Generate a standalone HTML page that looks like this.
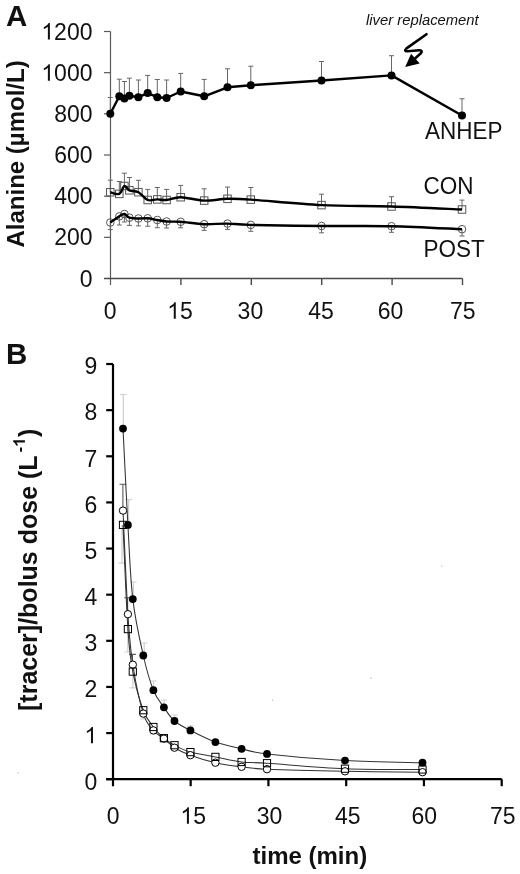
<!DOCTYPE html>
<html><head><meta charset="utf-8"><style>
html,body{margin:0;padding:0;background:#fff;width:520px;height:874px;overflow:hidden}
svg{display:block;will-change:transform}
</style></head><body>
<svg width="520" height="874" viewBox="0 0 520 874">
<g stroke="#5a5a5a" stroke-width="1.2" fill="none">
<path d="M110.5,31.5 V285"/>
<path d="M104,237.33 H110.5"/>
<path d="M104,196.17 H110.5"/>
<path d="M104,155 H110.5"/>
<path d="M104,113.83 H110.5"/>
<path d="M104,72.67 H110.5"/>
<path d="M104,31.5 H110.5"/>
</g>
<g stroke="#4a4a4a" stroke-width="1.4" fill="none">
<path d="M104,278.5 H462.5"/>
<path d="M180.9,278.5 V285"/>
<path d="M251.3,278.5 V285"/>
<path d="M321.7,278.5 V285"/>
<path d="M392.1,278.5 V285"/>
<path d="M462.5,278.5 V285"/>
</g>
<g transform="translate(79.71,286.5) scale(1,1.04)" fill="#111"><text x="0" y="0" font-family="Liberation Sans" font-size="23">0</text></g>
<g transform="translate(54.13,245.33) scale(1,1.04)" fill="#111"><text x="0" y="0" font-family="Liberation Sans" font-size="23">200</text></g>
<g transform="translate(54.13,204.17) scale(1,1.04)" fill="#111"><text x="0" y="0" font-family="Liberation Sans" font-size="23">400</text></g>
<g transform="translate(54.13,163) scale(1,1.04)" fill="#111"><text x="0" y="0" font-family="Liberation Sans" font-size="23">600</text></g>
<g transform="translate(54.13,121.83) scale(1,1.04)" fill="#111"><text x="0" y="0" font-family="Liberation Sans" font-size="23">800</text></g>
<g transform="translate(41.33,80.67) scale(1,1.04)" fill="#111"><path transform="translate(0,0) scale(0.01123,-0.01075)" d="M763,0 L583,0 L583,1147 Q518,1085 465,1054 Q412,1023 359,992 Q306,961 221,930 L221,1104 Q372,1175 428.5,1225.5 Q485,1276 541.5,1326.5 Q598,1377 645,1472 L763,1472 Z"/><text x="12.79" y="0" font-family="Liberation Sans" font-size="23">000</text></g>
<g transform="translate(41.33,39.5) scale(1,1.04)" fill="#111"><path transform="translate(0,0) scale(0.01123,-0.01075)" d="M763,0 L583,0 L583,1147 Q518,1085 465,1054 Q412,1023 359,992 Q306,961 221,930 L221,1104 Q372,1175 428.5,1225.5 Q485,1276 541.5,1326.5 Q598,1377 645,1472 L763,1472 Z"/><text x="12.79" y="0" font-family="Liberation Sans" font-size="23">200</text></g>
<g transform="translate(103.8,318.8) scale(1,1.04)" fill="#111"><text x="0" y="0" font-family="Liberation Sans" font-size="23">0</text></g>
<g transform="translate(167.21,318.8) scale(1,1.04)" fill="#111"><path transform="translate(0,0) scale(0.01123,-0.01075)" d="M763,0 L583,0 L583,1147 Q518,1085 465,1054 Q412,1023 359,992 Q306,961 221,930 L221,1104 Q372,1175 428.5,1225.5 Q485,1276 541.5,1326.5 Q598,1377 645,1472 L763,1472 Z"/><text x="12.79" y="0" font-family="Liberation Sans" font-size="23">5</text></g>
<g transform="translate(237.61,318.8) scale(1,1.04)" fill="#111"><text x="0" y="0" font-family="Liberation Sans" font-size="23">30</text></g>
<g transform="translate(308.21,318.8) scale(1,1.04)" fill="#111"><text x="0" y="0" font-family="Liberation Sans" font-size="23">45</text></g>
<g transform="translate(377.81,318.8) scale(1,1.04)" fill="#111"><text x="0" y="0" font-family="Liberation Sans" font-size="23">60</text></g>
<g transform="translate(449.91,318.8) scale(1,1.04)" fill="#111"><text x="0" y="0" font-family="Liberation Sans" font-size="23">75</text></g>
<text transform="translate(24.2,247.5) rotate(-90)" font-family="Liberation Sans" font-weight="bold" font-size="24" fill="#111">Alanine (µmol/L)</text>
<text transform="translate(6,25.5) scale(1,1.015)" font-family="Liberation Sans" font-weight="bold" font-size="29.5" fill="#111">A</text>
<g stroke="#666" stroke-width="1" fill="none">
<path d="M110.3,113.8 V97.5 M107.8,97.5 H112.8"/>
<path d="M119.3,96.2 V79.2 M116.8,79.2 H121.8"/>
<path d="M124.4,98.5 V81.5 M121.9,81.5 H126.9"/>
<path d="M129.4,95.7 V78.2 M126.9,78.2 H131.9"/>
<path d="M138.4,97.2 V80 M135.9,80 H140.9"/>
<path d="M147.7,93.1 V75.4 M145.2,75.4 H150.2"/>
<path d="M157.3,97.2 V79.5 M154.8,79.5 H159.8"/>
<path d="M166.6,98 V80 M164.1,80 H169.1"/>
<path d="M180.7,91.5 V73.4 M178.2,73.4 H183.2"/>
<path d="M204.2,96.3 V79.4 M201.7,79.4 H206.7"/>
<path d="M227.5,87.3 V68.8 M225,68.8 H230"/>
<path d="M250.8,85.2 V66.2 M248.3,66.2 H253.3"/>
<path d="M321.5,80.5 V61.5 M319,61.5 H324"/>
<path d="M391.5,75.4 V55.7 M389,55.7 H394"/>
<path d="M462,115.5 V98.8 M459.5,98.8 H464.5"/>
<path d="M110.3,192.3 V180.2 M107.8,180.2 H112.8"/>
<path d="M119.3,193.9 V181.5 M116.8,181.5 H121.8"/>
<path d="M124.4,186 V173.2 M121.9,173.2 H126.9"/>
<path d="M129.4,190.3 V177.5 M126.9,177.5 H131.9"/>
<path d="M138.4,192.2 V180.3 M135.9,180.3 H140.9"/>
<path d="M147.7,200 V189.4 M145.2,189.4 H150.2"/>
<path d="M157.3,199.4 V187.5 M154.8,187.5 H159.8"/>
<path d="M166.6,200 V189.4 M164.1,189.4 H169.1"/>
<path d="M180.7,197.2 V185.4 M178.2,185.4 H183.2"/>
<path d="M204.2,200.6 V188.8 M201.7,188.8 H206.7"/>
<path d="M227.5,198.8 V187.1 M225,187.1 H230"/>
<path d="M250.8,199.6 V187.5 M248.3,187.5 H253.3"/>
<path d="M321.5,205.1 V194.2 M319,194.2 H324"/>
<path d="M391.5,206.5 V196.7 M389,196.7 H394"/>
<path d="M462,209.5 V200.1 M459.5,200.1 H464.5"/>
<path d="M110.3,222.5 V229.6 M107.8,229.6 H112.8"/>
<path d="M119.3,216.4 V225 M116.8,225 H121.8"/>
<path d="M124.4,214 V222 M121.9,222 H126.9"/>
<path d="M129.4,217.7 V225.4 M126.9,225.4 H131.9"/>
<path d="M138.4,218.5 V225.9 M135.9,225.9 H140.9"/>
<path d="M147.7,218.3 V226.2 M145.2,226.2 H150.2"/>
<path d="M157.3,220 V227.7 M154.8,227.7 H159.8"/>
<path d="M166.6,221.5 V228 M164.1,228 H169.1"/>
<path d="M180.7,221.8 V227.8 M178.2,227.8 H183.2"/>
<path d="M204.2,224.2 V230.4 M201.7,230.4 H206.7"/>
<path d="M227.5,223.6 V229.4 M225,229.4 H230"/>
<path d="M250.8,224.9 V231.3 M248.3,231.3 H253.3"/>
<path d="M321.5,226 V232.8 M319,232.8 H324"/>
<path d="M391.5,226.2 V232.3 M389,232.3 H394"/>
<path d="M462,229.2 V236 M459.5,236 H464.5"/>
</g>
<g stroke="#555" stroke-width="1" fill="none">
<rect x="106.55" y="188.55" width="7.5" height="7.5"/>
<rect x="115.55" y="190.15" width="7.5" height="7.5"/>
<rect x="120.65" y="182.25" width="7.5" height="7.5"/>
<rect x="125.65" y="186.55" width="7.5" height="7.5"/>
<rect x="134.65" y="188.45" width="7.5" height="7.5"/>
<rect x="143.95" y="196.25" width="7.5" height="7.5"/>
<rect x="153.55" y="195.65" width="7.5" height="7.5"/>
<rect x="162.85" y="196.25" width="7.5" height="7.5"/>
<rect x="176.95" y="193.45" width="7.5" height="7.5"/>
<rect x="200.45" y="196.85" width="7.5" height="7.5"/>
<rect x="223.75" y="195.05" width="7.5" height="7.5"/>
<rect x="247.05" y="195.85" width="7.5" height="7.5"/>
<rect x="317.75" y="201.35" width="7.5" height="7.5"/>
<rect x="387.75" y="202.75" width="7.5" height="7.5"/>
<rect x="458.25" y="205.75" width="7.5" height="7.5"/>
<circle cx="110.3" cy="222.5" r="3.8"/>
<circle cx="119.3" cy="216.4" r="3.8"/>
<circle cx="124.4" cy="214" r="3.8"/>
<circle cx="129.4" cy="217.7" r="3.8"/>
<circle cx="138.4" cy="218.5" r="3.8"/>
<circle cx="147.7" cy="218.3" r="3.8"/>
<circle cx="157.3" cy="220" r="3.8"/>
<circle cx="166.6" cy="221.5" r="3.8"/>
<circle cx="180.7" cy="221.8" r="3.8"/>
<circle cx="204.2" cy="224.2" r="3.8"/>
<circle cx="227.5" cy="223.6" r="3.8"/>
<circle cx="250.8" cy="224.9" r="3.8"/>
<circle cx="321.5" cy="226" r="3.8"/>
<circle cx="391.5" cy="226.2" r="3.8"/>
<circle cx="462" cy="229.2" r="3.8"/>
</g>
<g stroke="#000" stroke-width="2.4" fill="none" stroke-linejoin="round">
<path d="M110.3,113.8 L119.3,96.2 L124.4,98.5 L129.4,95.7 L138.4,97.2 L147.7,93.1 L157.3,97.2 L166.6,98 L180.7,91.5 L204.2,96.3 L227.5,87.3 L250.8,85.2 L321.5,80.5 L391.5,75.4 L462,115.5"/>
<path d="M110.3,192.3 C111.8,192.57 116.95,194.95 119.3,193.9 C121.65,192.85 122.72,186.6 124.4,186 C126.08,185.4 127.07,189.27 129.4,190.3 C131.73,191.33 135.35,190.58 138.4,192.2 C141.45,193.82 144.55,198.8 147.7,200 C150.85,201.2 154.15,199.4 157.3,199.4 C160.45,199.4 162.7,200.37 166.6,200 C170.5,199.63 174.43,197.1 180.7,197.2 C186.97,197.3 196.4,200.33 204.2,200.6 C212,200.87 219.73,198.97 227.5,198.8 C235.27,198.63 235.13,198.55 250.8,199.6 C266.47,200.65 298.05,203.95 321.5,205.1 C344.95,206.25 368.08,205.77 391.5,206.5 C414.92,207.23 450.25,209 462,209.5"/>
<path d="M110.3,222.5 C111.8,221.48 116.95,217.82 119.3,216.4 C121.65,214.98 122.72,213.78 124.4,214 C126.08,214.22 127.07,216.95 129.4,217.7 C131.73,218.45 135.35,218.4 138.4,218.5 C141.45,218.6 144.55,218.05 147.7,218.3 C150.85,218.55 154.15,219.47 157.3,220 C160.45,220.53 162.7,221.2 166.6,221.5 C170.5,221.8 174.43,221.35 180.7,221.8 C186.97,222.25 196.4,223.9 204.2,224.2 C212,224.5 219.73,223.48 227.5,223.6 C235.27,223.72 235.13,224.5 250.8,224.9 C266.47,225.3 298.05,225.78 321.5,226 C344.95,226.22 368.08,225.67 391.5,226.2 C414.92,226.73 450.25,228.7 462,229.2"/>
</g>
<g fill="#000">
<circle cx="110.3" cy="113.8" r="4"/>
<circle cx="119.3" cy="96.2" r="4"/>
<circle cx="124.4" cy="98.5" r="4"/>
<circle cx="129.4" cy="95.7" r="4"/>
<circle cx="138.4" cy="97.2" r="4"/>
<circle cx="147.7" cy="93.1" r="4"/>
<circle cx="157.3" cy="97.2" r="4"/>
<circle cx="166.6" cy="98" r="4"/>
<circle cx="180.7" cy="91.5" r="4"/>
<circle cx="204.2" cy="96.3" r="4"/>
<circle cx="227.5" cy="87.3" r="4"/>
<circle cx="250.8" cy="85.2" r="4"/>
<circle cx="321.5" cy="80.5" r="4"/>
<circle cx="391.5" cy="75.4" r="4"/>
<circle cx="462" cy="115.5" r="4"/>
</g>
<text transform="translate(425,138.5) scale(1,1.04)" font-family="Liberation Sans" font-weight="normal" font-size="22.5" fill="#111">ANHEP</text>
<text transform="translate(423.5,193.5) scale(1,1.04)" font-family="Liberation Sans" font-weight="normal" font-size="22.5" fill="#111">CON</text>
<text transform="translate(423.5,256.5) scale(1,1.04)" font-family="Liberation Sans" font-weight="normal" font-size="22.5" fill="#111">POST</text>
<text x="366" y="25" font-family="Liberation Sans" font-style="italic" font-size="14.8" fill="#111">liver replacement</text>
<path d="M426.5,34.2 L406.5,48.4 Q403.3,51.3 407.5,51.3 L419.5,50.3 Q423.2,50.2 420.6,53.6 L415,58.5" stroke="#000" stroke-width="2.6" fill="none" stroke-linecap="round" stroke-linejoin="round"/>
<path d="M405.2,67.1 L411.1,53.8 L419.7,63.4 Z" fill="#000"/>
<g stroke="#000" stroke-width="2.2" fill="none">
<path d="M113,364 V786.2 M106.2,779.2 H501.7"/>
<path d="M106.2,779.2 H113"/>
<path d="M106.2,733.07 H113"/>
<path d="M106.2,686.94 H113"/>
<path d="M106.2,640.81 H113"/>
<path d="M106.2,594.68 H113"/>
<path d="M106.2,548.55 H113"/>
<path d="M106.2,502.42 H113"/>
<path d="M106.2,456.29 H113"/>
<path d="M106.2,410.16 H113"/>
<path d="M106.2,364.03 H113"/>
<path d="M190.66,779.2 V786.2"/>
<path d="M268.42,779.2 V786.2"/>
<path d="M346.18,779.2 V786.2"/>
<path d="M423.94,779.2 V786.2"/>
<path d="M501.7,779.2 V786.2"/>
</g>
<g transform="translate(84.41,789.5) scale(1,1.04)" fill="#111"><text x="0" y="0" font-family="Liberation Sans" font-size="23">0</text></g>
<g transform="translate(84.41,743.36) scale(1,1.04)" fill="#111"><path transform="translate(0,0) scale(0.01123,-0.01075)" d="M763,0 L583,0 L583,1147 Q518,1085 465,1054 Q412,1023 359,992 Q306,961 221,930 L221,1104 Q372,1175 428.5,1225.5 Q485,1276 541.5,1326.5 Q598,1377 645,1472 L763,1472 Z"/></g>
<g transform="translate(84.41,697.22) scale(1,1.04)" fill="#111"><text x="0" y="0" font-family="Liberation Sans" font-size="23">2</text></g>
<g transform="translate(84.41,651.08) scale(1,1.04)" fill="#111"><text x="0" y="0" font-family="Liberation Sans" font-size="23">3</text></g>
<g transform="translate(84.41,604.94) scale(1,1.04)" fill="#111"><text x="0" y="0" font-family="Liberation Sans" font-size="23">4</text></g>
<g transform="translate(84.41,558.79) scale(1,1.04)" fill="#111"><text x="0" y="0" font-family="Liberation Sans" font-size="23">5</text></g>
<g transform="translate(84.41,512.65) scale(1,1.04)" fill="#111"><text x="0" y="0" font-family="Liberation Sans" font-size="23">6</text></g>
<g transform="translate(84.41,466.51) scale(1,1.04)" fill="#111"><text x="0" y="0" font-family="Liberation Sans" font-size="23">7</text></g>
<g transform="translate(84.41,420.37) scale(1,1.04)" fill="#111"><text x="0" y="0" font-family="Liberation Sans" font-size="23">8</text></g>
<g transform="translate(84.41,374.23) scale(1,1.04)" fill="#111"><text x="0" y="0" font-family="Liberation Sans" font-size="23">9</text></g>
<g transform="translate(106.8,823.8) scale(1,1.04)" fill="#111"><text x="0" y="0" font-family="Liberation Sans" font-size="23">0</text></g>
<g transform="translate(180.37,823.8) scale(1,1.04)" fill="#111"><path transform="translate(0,0) scale(0.01123,-0.01075)" d="M763,0 L583,0 L583,1147 Q518,1085 465,1054 Q412,1023 359,992 Q306,961 221,930 L221,1104 Q372,1175 428.5,1225.5 Q485,1276 541.5,1326.5 Q598,1377 645,1472 L763,1472 Z"/><text x="12.79" y="0" font-family="Liberation Sans" font-size="23">5</text></g>
<g transform="translate(256.73,823.8) scale(1,1.04)" fill="#111"><text x="0" y="0" font-family="Liberation Sans" font-size="23">30</text></g>
<g transform="translate(334.89,823.8) scale(1,1.04)" fill="#111"><text x="0" y="0" font-family="Liberation Sans" font-size="23">45</text></g>
<g transform="translate(411.45,823.8) scale(1,1.04)" fill="#111"><text x="0" y="0" font-family="Liberation Sans" font-size="23">60</text></g>
<g transform="translate(490.01,823.8) scale(1,1.04)" fill="#111"><text x="0" y="0" font-family="Liberation Sans" font-size="23">75</text></g>
<text x="252.5" y="863.8" font-family="Liberation Sans" font-weight="bold" font-size="24" fill="#111">time (min)</text>
<text transform="translate(6,363.8) scale(1,1.015)" font-family="Liberation Sans" font-weight="bold" font-size="29.5" fill="#111">B</text>
<g transform="translate(36.5,711) rotate(-90)" font-family="Liberation Sans" font-weight="bold" fill="#111"><text x="0" y="0" font-size="25">[tracer]/bolus dose (L</text><text x="258.6" y="-11.6" font-size="17">-</text><path transform="translate(264.26,-11.6) scale(0.00830,-0.00796)" d="M791,0 L510,0 L510,1059 Q356,915 147,846 L147,1101 Q257,1137 386,1237 Q515,1337 563,1470 L791,1470 Z"/><text x="274" y="0" font-size="25">)</text></g>
<g stroke="#cfcfcf" stroke-width="1.2" fill="none">
<path d="M123.3,428.6 V394.5 M120.1,394.5 H126.5"/>
<path d="M128.6,524.9 V499.7 M125.4,499.7 H131.8"/>
<path d="M133.4,599.1 V582 M130.2,582 H136.6"/>
<path d="M144.2,655.5 V643 M141,643 H147.4"/>
<path d="M153.6,690.2 V681 M150.4,681 H156.8"/>
<path d="M164,707.3 V700 M160.8,700 H167.2"/>
<path d="M174.6,721 V715 M171.4,715 H177.8"/>
<path d="M190.6,730.4 V726 M187.4,726 H193.8"/>
<path d="M122,524.9 V563.2 M118.8,563.2 H125.2"/>
<path d="M127.8,629.1 V652 M124.6,652 H131"/>
<path d="M132.8,671.6 V687.8 M129.6,687.8 H136"/>
<path d="M143.3,710.2 V719 M140.1,719 H146.5"/>
<path d="M153.4,727 V734 M150.2,734 H156.6"/>
</g>
<g stroke="#5a5a5a" stroke-width="1.1" fill="none">
<path d="M122.9,510.6 V484.3 M119.5,484.3 H126.3"/>
<path d="M127.6,614.2 V597.8 M124.2,597.8 H131"/>
<path d="M132.5,664.7 V654.4 M129.1,654.4 H135.9"/>
</g>
<g stroke="#333" stroke-width="1.05" fill="none">
<path d="M123,428.6 C123.82,444.65 126.27,496.48 127.9,524.9 C129.53,553.32 130.23,577.33 132.8,599.1 C135.37,620.87 139.87,640.32 143.3,655.5 C146.73,670.68 149.97,681.57 153.4,690.2 C156.83,698.83 160.38,702.17 163.9,707.3 C167.42,712.43 170.08,717.15 174.5,721 C178.92,724.85 183.58,726.88 190.4,730.4 C197.22,733.92 206.87,739.03 215.4,742.1 C223.93,745.17 233,746.83 241.6,748.8 C250.2,750.77 249.77,751.93 267,753.9 C284.23,755.87 319.08,759.13 345,760.6 C370.92,762.07 409.58,762.35 422.5,762.7"/>
<path d="M123,510.6 C123.82,527.87 126.27,588.52 127.9,614.2 C129.53,639.88 130.23,648.13 132.8,664.7 C135.37,681.27 139.87,702.65 143.3,713.6 C146.73,724.55 149.97,726.23 153.4,730.4 C156.83,734.57 160.38,735.72 163.9,738.6 C167.42,741.48 170.08,744.93 174.5,747.7 C178.92,750.47 183.58,752.7 190.4,755.2 C197.22,757.7 206.87,760.77 215.4,762.7 C223.93,764.63 233,765.72 241.6,766.8 C250.2,767.88 249.77,768.45 267,769.2 C284.23,769.95 319.08,770.8 345,771.3 C370.92,771.8 409.58,772.05 422.5,772.2"/>
<path d="M123,524.9 C123.82,542.27 126.27,604.65 127.9,629.1 C129.53,653.55 130.23,658.08 132.8,671.6 C135.37,685.12 139.87,700.97 143.3,710.2 C146.73,719.43 149.97,722.33 153.4,727 C156.83,731.67 160.38,735.17 163.9,738.2 C167.42,741.23 170.08,742.88 174.5,745.2 C178.92,747.52 183.58,750.15 190.4,752.1 C197.22,754.05 206.87,755.25 215.4,756.9 C223.93,758.55 233,760.95 241.6,762 C250.2,763.05 249.77,762.08 267,763.2 C284.23,764.32 319.08,767.65 345,768.7 C370.92,769.75 409.58,769.37 422.5,769.5"/>
</g>
<g stroke="#000" stroke-width="1" fill="#fff">
<circle cx="123" cy="510.6" r="3.7"/>
<circle cx="127.9" cy="614.2" r="3.7"/>
<circle cx="132.8" cy="664.7" r="3.7"/>
<circle cx="143.3" cy="713.6" r="3.7"/>
<circle cx="153.4" cy="730.4" r="3.7"/>
<circle cx="163.9" cy="738.6" r="3.7"/>
<circle cx="174.5" cy="747.7" r="3.7"/>
<circle cx="190.4" cy="755.2" r="3.7"/>
<circle cx="215.4" cy="762.7" r="3.7"/>
<circle cx="241.6" cy="766.8" r="3.7"/>
<circle cx="267" cy="769.2" r="3.7"/>
<circle cx="345" cy="771.3" r="3.7"/>
<circle cx="422.5" cy="772.2" r="3.7"/>
</g>
<g stroke="#000" stroke-width="1" fill="none">
<rect x="119.4" y="521.3" width="7.2" height="7.2"/>
<rect x="124.3" y="625.5" width="7.2" height="7.2"/>
<rect x="129.2" y="668" width="7.2" height="7.2"/>
<rect x="139.7" y="706.6" width="7.2" height="7.2"/>
<rect x="149.8" y="723.4" width="7.2" height="7.2"/>
<rect x="160.3" y="734.6" width="7.2" height="7.2"/>
<rect x="170.9" y="741.6" width="7.2" height="7.2"/>
<rect x="186.8" y="748.5" width="7.2" height="7.2"/>
<rect x="211.8" y="753.3" width="7.2" height="7.2"/>
<rect x="238" y="758.4" width="7.2" height="7.2"/>
<rect x="263.4" y="759.6" width="7.2" height="7.2"/>
<rect x="341.4" y="765.1" width="7.2" height="7.2"/>
<rect x="418.9" y="765.9" width="7.2" height="7.2"/>
</g>
<g fill="#000">
<circle cx="123" cy="428.6" r="3.9"/>
<circle cx="127.9" cy="524.9" r="3.9"/>
<circle cx="132.8" cy="599.1" r="3.9"/>
<circle cx="143.3" cy="655.5" r="3.9"/>
<circle cx="153.4" cy="690.2" r="3.9"/>
<circle cx="163.9" cy="707.3" r="3.9"/>
<circle cx="174.5" cy="721" r="3.9"/>
<circle cx="190.4" cy="730.4" r="3.9"/>
<circle cx="215.4" cy="742.1" r="3.9"/>
<circle cx="241.6" cy="748.8" r="3.9"/>
<circle cx="267" cy="753.9" r="3.9"/>
<circle cx="345" cy="760.6" r="3.9"/>
<circle cx="422.5" cy="762.7" r="3.9"/>
</g>
<g fill="#c4c4c4"><circle cx="441.8" cy="566" r="0.8"/><circle cx="371" cy="678" r="0.8"/><circle cx="272.6" cy="700.3" r="0.8"/><circle cx="17.9" cy="773" r="0.8"/></g>
</svg>
</body></html>
